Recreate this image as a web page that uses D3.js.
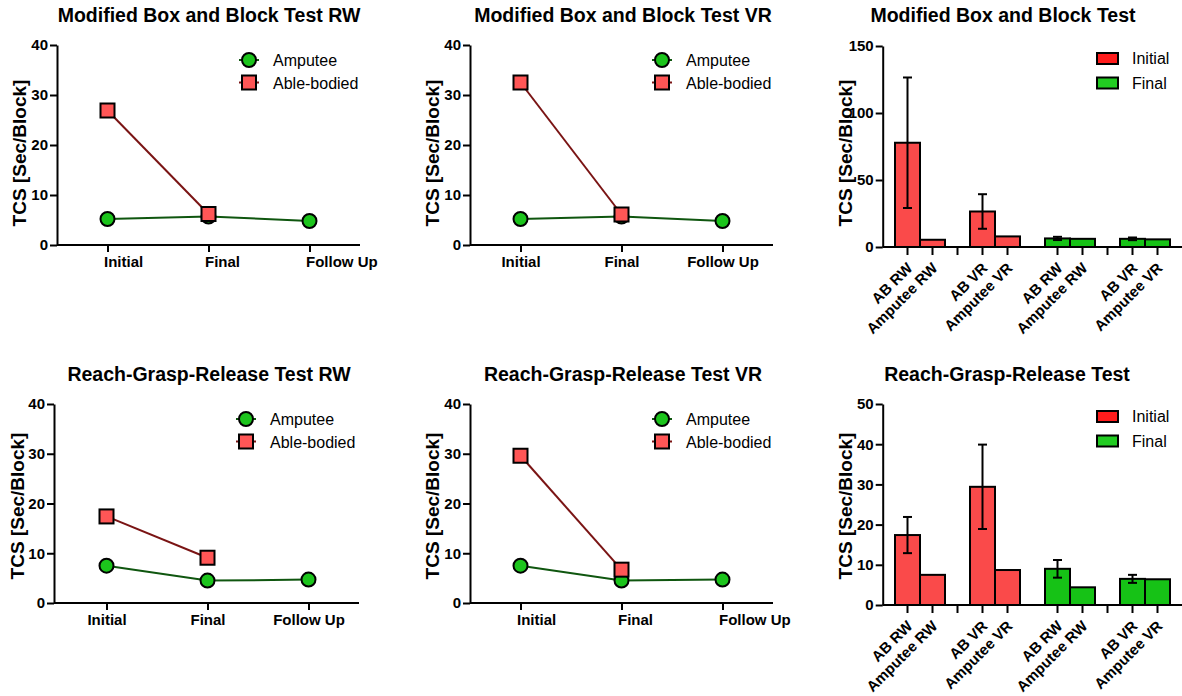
<!DOCTYPE html>
<html><head><meta charset="utf-8">
<script src="https://cdn.jsdelivr.net/npm/d3@7"></script>
<style>
body{margin:0;background:#fff}
svg{display:block}
text{font-family:"Liberation Sans",Arial,Helvetica,sans-serif}
</style>
</head><body>
<svg id="chart" width="1182" height="696"></svg>
<script>
// ---------- DATA ----------
const lineCategories = ["Initial", "Final", "Follow Up"];
const lineTicks = [0, 10, 20, 30, 40];
const lineSeriesNames = ["Amputee", "Able-bodied"];

const mbbtRW_amputee = [5.2, 5.7, 4.8];
const mbbtRW_able = [26.9, 6.2];
const mbbtVR_amputee = [5.2, 5.7, 4.8];
const mbbtVR_able = [32.5, 6.1];
const rgrRW_amputee = [7.5, 4.5, 4.7];
const rgrRW_able = [17.4, 9.1];
const rgrVR_amputee = [7.5, 4.5, 4.7];
const rgrVR_able = [29.6, 6.7];

const barLabels = ["AB RW", "Amputee RW", "AB VR", "Amputee VR"];
const barSeriesNames = ["Initial", "Final"];
const mbbtInitial = [77.8, 5.4, 26.5, 7.9];
const mbbtInitialErr = [48.7, 0, 12.9, 0];
const mbbtFinal = [6.4, 6.1, 6.1, 5.7];
const mbbtFinalErr = [1.2, 0, 1.0, 0];
const mbbtTicks = [0, 50, 100, 150];
const rgrInitial = [17.4, 7.5, 29.4, 8.7];
const rgrInitialErr = [4.5, 0, 10.5, 0];
const rgrFinal = [9.0, 4.4, 6.5, 6.4];
const rgrFinalErr = [2.2, 0, 1.0, 0];
const rgrTicks = [0, 10, 20, 30, 40, 50];

// ---------- STYLE ----------
const C = {
  ampLine: "#0f560f", ampFill: "#1cc41c",
  ableLine: "#7a1414", ableFill: "#ff5656",
  barInit: "#fa4a4a", barFinal: "#16c216",
  legInit: "#ff1c1c", legFinal: "#22cc22"
};
const svg = d3.select("#chart");

function styleAxis(g, size) {
  g.selectAll("path,line").attr("stroke", "#000").attr("stroke-width", 2);
  g.selectAll("text").attr("font-size", size).attr("font-weight", "bold").attr("fill", "#000");
}

function title(txt, cx, y) {
  svg.append("text").attr("x", cx).attr("y", y).attr("text-anchor", "middle")
    .attr("font-size", 19.5).attr("font-weight", "bold").text(txt);
}
function yLabel(x, cy) {
  svg.append("text").attr("transform", `translate(${x},${cy}) rotate(-90)`)
    .attr("text-anchor", "middle").attr("font-size", 19).attr("font-weight", "bold")
    .text("TCS [Sec/Block]");
}

function linePanel(cfg) {
  const g = svg.append("g");
  const y = d3.scaleLinear().domain([0, 40]).range([cfg.y0, cfg.yTop]);
  const x = d3.scalePoint().domain(lineCategories).range([cfg.xs, cfg.xe]).padding(0.5);

  g.append("g").attr("transform", `translate(${cfg.ax},0)`)
    .call(d3.axisLeft(y).tickValues(lineTicks).tickSize(7).tickSizeOuter(0).tickPadding(2))
    .call(a => styleAxis(a, 15));
  const xa = g.append("g").attr("transform", `translate(0,${cfg.y0})`)
    .call(d3.axisBottom(x).tickSize(7).tickSizeOuter(0).tickPadding(4))
    .call(a => styleAxis(a, 15))
    .call(a => a.select(".domain").attr("d", `M${cfg.ax},0H${cfg.xe}`));
  if (cfg.shiftLabels) xa.selectAll(".tick text").attr("text-anchor", "start").attr("x", -4);

  const amp = cfg.amp.map((v, i) => [x(lineCategories[i]), y(v)]);
  const able = cfg.able.map((v, i) => [x(lineCategories[i]), y(v)]);
  const line = d3.line();
  g.append("path").attr("d", line(amp)).attr("fill", "none").attr("stroke", C.ampLine).attr("stroke-width", 2);
  g.append("path").attr("d", line(able)).attr("fill", "none").attr("stroke", C.ableLine).attr("stroke-width", 2);
  g.selectAll(".amp").data(amp).join("circle").attr("cx", d => d[0]).attr("cy", d => d[1]).attr("r", 7)
    .attr("fill", C.ampFill).attr("stroke", "#000").attr("stroke-width", 2);
  g.selectAll(".able").data(able).join("rect").attr("x", d => d[0] - 7).attr("y", d => d[1] - 7)
    .attr("width", 14).attr("height", 14).attr("fill", C.ableFill).attr("stroke", "#000").attr("stroke-width", 2);

  // legend
  const lx = cfg.ax + 192, ly = [cfg.yTop + 15, cfg.yTop + 37.5];
  const lg = g.append("g");
  [[C.ampLine, C.ampFill, "c"], [C.ableLine, C.ableFill, "s"]].forEach((s, i) => {
    lg.append("line").attr("x1", lx - 10).attr("x2", lx + 10).attr("y1", ly[i]).attr("y2", ly[i])
      .attr("stroke", s[0]).attr("stroke-width", 2);
    if (s[2] === "c") lg.append("circle").attr("cx", lx).attr("cy", ly[i]).attr("r", 7)
      .attr("fill", s[1]).attr("stroke", "#000").attr("stroke-width", 2);
    else lg.append("rect").attr("x", lx - 7).attr("y", ly[i] - 7).attr("width", 14).attr("height", 14)
      .attr("fill", s[1]).attr("stroke", "#000").attr("stroke-width", 2);
    lg.append("text").attr("x", lx + 24).attr("y", ly[i] + 6).attr("font-size", 16).text(lineSeriesNames[i]);
  });
}

function barPanel(cfg) {
  const g = svg.append("g");
  const y = d3.scaleLinear().domain([0, cfg.max]).range([cfg.y0, cfg.yTop]);
  const x = d3.scaleBand().domain(d3.range(11)).range([cfg.ax + 12.3, cfg.ax + 12.3 + 275]).padding(0);
  const slots = [0, 1, 3, 4];
  const entries = [];
  cfg.init.forEach((v, i) => entries.push({slot: slots[i], v, e: cfg.initErr[i], fill: C.barInit, label: barLabels[i]}));
  cfg.fin.forEach((v, i) => entries.push({slot: slots[i] + 6, v, e: cfg.finErr[i], fill: C.barFinal, label: barLabels[i]}));
  const labelBySlot = {};
  entries.forEach(d => labelBySlot[d.slot] = d.label);

  g.selectAll(".bar").data(entries).join("rect")
    .attr("x", d => x(d.slot)).attr("width", x.bandwidth())
    .attr("y", d => y(d.v)).attr("height", d => y(0) - y(d.v))
    .attr("fill", d => d.fill).attr("stroke", "#000").attr("stroke-width", 2);

  const eb = entries.filter(d => d.e > 0);
  const cx = d => x(d.slot) + x.bandwidth() / 2;
  g.selectAll(".ev").data(eb).join("line").attr("x1", cx).attr("x2", cx)
    .attr("y1", d => y(d.v - d.e)).attr("y2", d => y(d.v + d.e)).attr("stroke", "#000").attr("stroke-width", 2);
  ["+", "-"].forEach(sg => {
    g.selectAll(".ec" + (sg === "+" ? "p" : "m")).data(eb).join("line")
      .attr("x1", d => cx(d) - 4.5).attr("x2", d => cx(d) + 4.5)
      .attr("y1", d => y(sg === "+" ? d.v + d.e : d.v - d.e)).attr("y2", d => y(sg === "+" ? d.v + d.e : d.v - d.e))
      .attr("stroke", "#000").attr("stroke-width", 2);
  });

  g.append("g").attr("transform", `translate(${cfg.ax},0)`)
    .call(d3.axisLeft(y).tickValues(cfg.ticks).tickSize(7).tickSizeOuter(0).tickPadding(2))
    .call(a => styleAxis(a, 15));
  const tickSlots = d3.range(11).filter(s => s !== 5);
  g.append("g").attr("transform", `translate(0,${cfg.y0})`)
    .call(d3.axisBottom(x).tickValues(tickSlots).tickSize(8).tickSizeOuter(0).tickFormat(s => labelBySlot[s] || ""))
    .call(a => styleAxis(a, 15))
    .call(a => a.select(".domain").attr("d", `M${cfg.ax},0H${cfg.ax + 302}`))
    .call(a => a.selectAll(".tick text").attr("text-anchor", "end").attr("x", 0).attr("y", 0).attr("dy", null)
      .attr("transform", "translate(6,22) rotate(-45)"));

  // legend
  const lx = 1097, ly = [cfg.yTop + 7, cfg.yTop + 31.5];
  [C.legInit, C.legFinal].forEach((col, i) => {
    g.append("rect").attr("x", lx).attr("y", ly[i]).attr("width", 21).attr("height", 11)
      .attr("fill", col).attr("stroke", "#000").attr("stroke-width", 2);
    g.append("text").attr("x", lx + 35).attr("y", ly[i] + 11).attr("font-size", 16).text(barSeriesNames[i]);
  });
}

// ---------- PANELS ----------
title("Modified Box and Block Test RW", 209, 22);
title("Modified Box and Block Test VR", 623, 22);
title("Modified Box and Block Test", 1003, 22);
title("Reach-Grasp-Release Test RW", 209, 381);
title("Reach-Grasp-Release Test VR", 623, 381);
title("Reach-Grasp-Release Test", 1007, 381);

yLabel(26, 153); yLabel(439, 153); yLabel(852, 153);
yLabel(24, 506); yLabel(439, 506); yLabel(852, 506);

linePanel({ax: 57, xs: 57, xe: 360, y0: 245, yTop: 45, shiftLabels: true, amp: mbbtRW_amputee, able: mbbtRW_able});
linePanel({ax: 470, xs: 470, xe: 773, y0: 245, yTop: 45, shiftLabels: false, amp: mbbtVR_amputee, able: mbbtVR_able});
linePanel({ax: 54, xs: 56, xe: 359, y0: 603, yTop: 404, shiftLabels: false, amp: rgrRW_amputee, able: rgrRW_able});
linePanel({ax: 470, xs: 470, xe: 773, y0: 603, yTop: 404, shiftLabels: true, amp: rgrVR_amputee, able: rgrVR_able});

barPanel({ax: 882.7, y0: 247, yTop: 46, max: 150, ticks: mbbtTicks,
  init: mbbtInitial, initErr: mbbtInitialErr, fin: mbbtFinal, finErr: mbbtFinalErr});
barPanel({ax: 882.7, y0: 605, yTop: 404, max: 50, ticks: rgrTicks,
  init: rgrInitial, initErr: rgrInitialErr, fin: rgrFinal, finErr: rgrFinalErr});
</script>
</body></html>
